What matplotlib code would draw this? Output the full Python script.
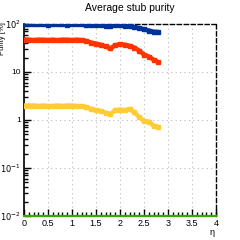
import matplotlib

matplotlib.use("Agg")
import matplotlib.pyplot as plt
from matplotlib.ticker import FixedLocator, FuncFormatter, MultipleLocator

plt.rcParams["font.family"] = ["Liberation Sans", "DejaVu Sans"]

eta = [0.0, 0.1, 0.2, 0.3, 0.4, 0.5, 0.6, 0.7, 0.8, 0.9, 1.0, 1.1, 1.2, 1.3, 1.4,
       1.5, 1.6, 1.7, 1.8, 1.9, 2.0, 2.1, 2.2, 2.3, 2.4, 2.5, 2.6, 2.7, 2.8]
purity_blue = [98, 98, 99, 98, 98, 97, 98, 98, 98, 97, 98, 98, 98, 97, 97,
               96, 95, 93, 91, 95, 96, 93, 90, 86, 82, 77, 73, 69, 68]
purity_red = [47, 47, 46, 47, 47, 46, 47, 46, 47, 47, 46, 47, 46, 44, 41,
              39, 37, 34, 31, 36, 38, 37, 35, 32, 28, 23, 21, 18, 16]
purity_yellow = [2.0, 2.0, 2.0, 1.95, 2.0, 1.95, 1.95, 2.0, 1.95, 2.0, 2.0, 1.95, 1.95, 1.85, 1.7,
                 1.6, 1.55, 1.42, 1.33, 1.6, 1.65, 1.6, 1.7, 1.45, 1.15, 0.95, 0.93, 0.76, 0.72]
green_eta = [0.0, 4.0]
purity_green = [0.01, 0.01]

fig = plt.figure(figsize=(2.4, 2.4), dpi=100)
ax = fig.add_axes([0.1, 0.1, 0.8, 0.8])

ax.plot(eta, purity_blue, color="#003399", lw=3.2, marker="s", ms=3.5, solid_capstyle="butt", zorder=3)
ax.plot(eta, purity_red, color="#ff3300", lw=3.2, marker="s", ms=3.5, solid_capstyle="butt", zorder=3)
ax.plot(eta, purity_yellow, color="#ffcc33", lw=3.2, marker="s", ms=3.5, solid_capstyle="butt", zorder=3)
ax.plot(green_eta, purity_green, color="#33aa00", lw=1.6, zorder=4, clip_on=False)

ax.set_yscale("log")
ax.set_xlim(0, 4)
ax.set_ylim(0.01, 100)

ax.xaxis.set_major_locator(MultipleLocator(0.5))
ax.xaxis.set_minor_locator(MultipleLocator(0.1))
ax.xaxis.set_major_formatter(FuncFormatter(lambda v, p: f"{v:g}"))

ax.yaxis.set_major_locator(FixedLocator([0.01, 0.1, 1, 10, 100]))
ylabels = {0.01: r"$10^{-2}$", 0.1: r"$10^{-1}$", 1: "1", 10: "10", 100: r"$10^{2}$"}
ax.yaxis.set_major_formatter(FuncFormatter(lambda v, p: ylabels.get(round(v, 2), "")))

ax.tick_params(which="both", direction="in", top=False, right=False, labelsize=6.5, pad=2)
ax.tick_params(axis="y", labelsize=6)
ax.tick_params(which="major", length=5, width=1)
ax.tick_params(which="minor", length=3, width=1)

ax.grid(True, which="major", color="#bbbbbb", linestyle=(0, (1, 3)), lw=0.8)

for side in ("top", "right"):
    ax.spines[side].set_linestyle((0, (3, 2)))
    ax.spines[side].set_linewidth(1)
for side in ("left", "bottom"):
    ax.spines[side].set_linewidth(1.2)

fig.text(0.54, 0.965, "Average stub purity", ha="center", va="center", fontsize=7.5)
ax.set_ylabel("Purity [%]", fontsize=5.5, ha="right")
ax.yaxis.set_label_coords(-0.095, 1.01)
ax.set_xlabel("η", fontsize=6.5, ha="right")
ax.xaxis.set_label_coords(0.99, -0.06)

fig.savefig("out.png", dpi=100)
